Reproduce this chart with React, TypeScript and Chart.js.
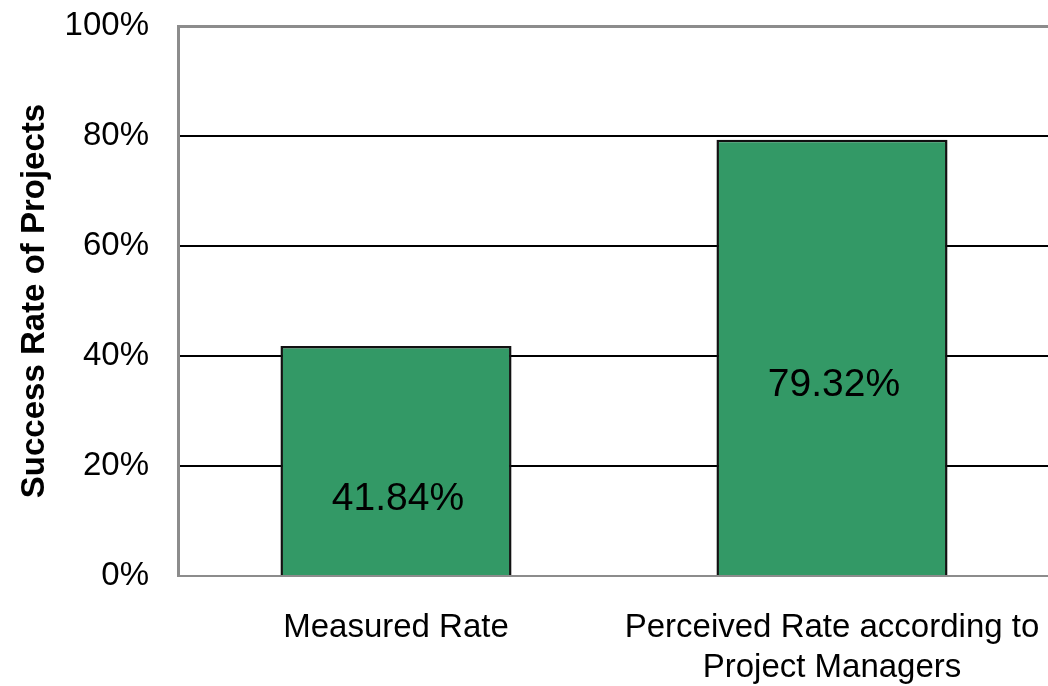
import React, { useEffect, useRef } from "react";
import { Chart, registerables } from "chart.js";

Chart.register(...registerables);

const categories: (string | string[])[] = [
  "Measured Rate",
  ["Perceived Rate according to", "Project Managers"],
];
const successRates = [41.84, 79.32];
const valueLabels = ["41.84%", "79.32%"];
// vertical position (in axis %) where each value label sits inside its bar
const labelLevels = [14.0, 34.7];
const yTicks = [0, 20, 40, 60, 80, 100];
const yTitle = "Success Rate of Projects";

const FONT = "'Liberation Sans', Arial, sans-serif";

const valueLabelPlugin = {
  id: "valueLabels",
  afterDatasetsDraw(chart: any) {
    const { ctx } = chart;
    const meta = chart.getDatasetMeta(0);
    const yScale = chart.scales.y;
    ctx.save();
    ctx.font = `39px ${FONT}`;
    ctx.fillStyle = "#000";
    ctx.textAlign = "center";
    ctx.textBaseline = "middle";
    meta.data.forEach((bar: any, i: number) => {
      ctx.fillText(valueLabels[i], bar.x + 2, yScale.getPixelForValue(labelLevels[i]));
    });
    ctx.restore();
  },
};

export default function App() {
  const ref = useRef<HTMLCanvasElement | null>(null);
  useEffect(() => {
    if (!ref.current) return;
    const chart = new Chart(ref.current, {
      type: "bar",
      data: {
        labels: categories as any,
        datasets: [
          {
            data: successRates,
            backgroundColor: "#339966",
            borderColor: "#111",
            borderWidth: 2.5,
            borderSkipped: "bottom",
            categoryPercentage: 1,
            barPercentage: 0.53,
          },
        ],
      },
      options: {
        animation: false,
        responsive: false,
        maintainAspectRatio: false,
        layout: { padding: { top: 26, right: 2, left: 0, bottom: 0 } },
        plugins: {
          legend: { display: false },
          tooltip: { enabled: false },
        },
        scales: {
          x: {
            grid: { display: false, drawTicks: false },
            border: { display: true, color: "#8c8c8c", width: 2 },
            ticks: {
              color: "#000",
              font: { family: FONT, size: 33, lineHeight: 1.24 },
              padding: 31,
              maxRotation: 0,
              minRotation: 0,
              autoSkip: false,
            },
            afterFit(scale: any) {
              scale.height = 110;
              scale.paddingLeft = 0;
              scale.paddingRight = 0;
            },
          },
          y: {
            min: 0,
            max: 100,
            afterBuildTicks(scale: any) {
              scale.ticks = yTicks.map((v) => ({ value: v }));
            },
            grid: {
              drawTicks: false,
              color: (c: any) =>
                c.tick && (c.tick.value === 100 || c.tick.value === 0) ? "#8c8c8c" : "#000",
              lineWidth: (c: any) => (c.tick && c.tick.value === 100 ? 3 : 2),
            },
            border: { display: true, color: "#8c8c8c", width: 3 },
            ticks: {
              color: "#000",
              font: { family: FONT, size: 33 },
              padding: 29,
              callback: (v: any) => `${v}%`,
            },
            title: {
              display: true,
              text: yTitle,
              color: "#000",
              font: { family: FONT, size: 33, weight: "bold" },
              padding: { top: 15, bottom: 0 },
            },
            afterFit(scale: any) {
              scale.width = 178;
              scale.paddingTop = 0;
              scale.paddingBottom = 0;
            },
          },
        },
      },
      plugins: [valueLabelPlugin],
    });
    return () => chart.destroy();
  }, []);

  return (
    <div
      style={{
        position: "fixed",
        left: 0,
        top: 0,
        width: 1048,
        height: 686,
        overflow: "hidden",
        background: "#fff",
      }}
    >
      <canvas ref={ref} width={1052} height={686} style={{ display: "block" }} />
    </div>
  );
}
